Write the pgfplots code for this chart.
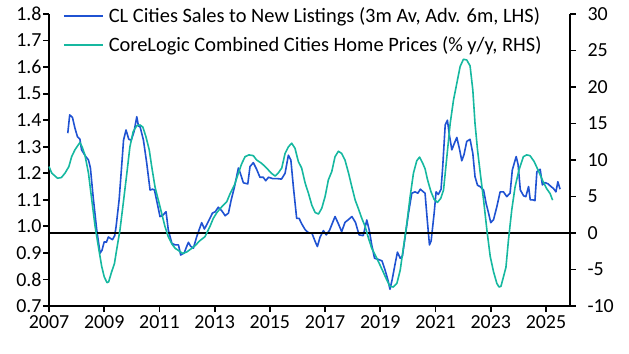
\documentclass[border=0pt]{standalone}
\usepackage{pgfplots}
\pgfplotsset{compat=1.18}
\usepackage{fontspec}
\setmainfont{Carlito}
\definecolor{clblue}{RGB}{31,82,210}
\definecolor{clteal}{RGB}{22,184,160}
\begin{document}
\begin{tikzpicture}
\pgfplotsset{
  every axis/.append style={
    scale only axis, width=521bp, height=292bp,
    xmin=2007, xmax=2025.87,
    axis line style={black, line width=2.4bp},
    tick style={black, line width=1.8bp},
    tick align=outside,
    major tick length=6bp,
    every tick label/.append style={font=\fontsize{20}{24}\selectfont},
    /pgf/number format/assume math mode=true,
    clip=false,
  },
}
\begin{axis}[
  axis y line*=left, axis x line*=bottom,
  ymin=0.7, ymax=1.8,
  ytick={0.7,0.8,...,1.81},
  yticklabel style={xshift=2bp, /pgf/number format/.cd, fixed, fixed zerofill, precision=1},
  xtick={2007,2009,...,2025},
  xticklabel style={/pgf/number format/.cd, 1000 sep={}},
  legend style={draw=none, fill=none, inner sep=0pt, outer sep=0pt,
    at={(0.0269,1.0226)}, anchor=north west, row sep=13bp,
    font=\fontsize{20.5}{24}\selectfont,
    nodes={inner sep=0pt, anchor=west},
    /tikz/every odd column/.append style={column sep=5bp}},
  legend image code/.code={\draw[#1, line width=1.8bp] (0bp,0bp) -- (39bp,0bp);},
]
\addplot[clblue, line width=1.6bp, line join=round] coordinates {
(2007.68,1.351) (2007.75,1.42) (2007.85,1.41) (2007.94,1.37) (2008.03,1.338)
(2008.12,1.328) (2008.18,1.288) (2008.33,1.263) (2008.43,1.25) (2008.5,1.22)
(2008.6,1.11) (2008.73,0.986) (2008.85,0.899) (2008.92,0.91) (2009.0,0.942)
(2009.08,0.94) (2009.15,0.96) (2009.22,0.955) (2009.3,0.95) (2009.38,0.965)
(2009.43,0.999) (2009.54,1.10) (2009.63,1.225) (2009.7,1.325) (2009.79,1.363)
(2009.89,1.328) (2009.98,1.325) (2010.08,1.357) (2010.18,1.413) (2010.24,1.378)
(2010.3,1.375) (2010.42,1.325) (2010.54,1.238) (2010.66,1.137) (2010.75,1.14)
(2010.82,1.137) (2010.92,1.087) (2011.02,1.037) (2011.1,1.04) (2011.24,1.055)
(2011.32,0.987) (2011.45,0.936) (2011.57,0.93) (2011.69,0.93) (2011.77,0.892)
(2011.9,0.90) (2011.97,0.92) (2012.05,0.94) (2012.13,0.925) (2012.23,0.918)
(2012.35,0.961) (2012.43,0.985) (2012.53,1.014) (2012.63,0.99) (2012.77,1.018)
(2012.92,1.05) (2013.02,1.055) (2013.13,1.072) (2013.25,1.06) (2013.38,1.04)
(2013.5,1.05) (2013.6,1.10) (2013.72,1.15) (2013.86,1.22) (2013.93,1.20)
(2014.04,1.164) (2014.2,1.16) (2014.28,1.225) (2014.4,1.24) (2014.52,1.215)
(2014.64,1.185) (2014.76,1.185) (2014.85,1.172) (2014.95,1.185) (2015.1,1.18)
(2015.25,1.18) (2015.42,1.178) (2015.55,1.20) (2015.67,1.268) (2015.76,1.25)
(2015.85,1.15) (2015.97,1.03) (2016.06,1.03) (2016.15,1.01) (2016.28,0.987)
(2016.4,0.976) (2016.52,0.975) (2016.64,0.943) (2016.72,0.924) (2016.82,0.96)
(2016.94,0.984) (2017.04,0.968) (2017.16,0.985) (2017.36,1.037) (2017.48,1.01)
(2017.6,0.98) (2017.72,1.015) (2017.84,1.025) (2017.97,1.037) (2018.1,1.015)
(2018.23,0.968) (2018.38,0.965) (2018.51,1.024) (2018.6,0.985) (2018.69,0.93)
(2018.79,0.88) (2018.94,0.875) (2019.06,0.87) (2019.17,0.836) (2019.27,0.80)
(2019.35,0.763) (2019.43,0.80) (2019.54,0.861) (2019.62,0.903) (2019.72,0.88)
(2019.8,0.888) (2019.9,0.961) (2020.02,1.05) (2020.14,1.125) (2020.26,1.13)
(2020.36,1.125) (2020.45,1.14) (2020.56,1.13) (2020.62,1.125) (2020.7,1.024)
(2020.78,0.93) (2020.84,0.945) (2020.95,1.05) (2021.02,1.13) (2021.1,1.12)
(2021.2,1.14) (2021.26,1.225) (2021.35,1.382) (2021.43,1.40) (2021.5,1.345)
(2021.59,1.288) (2021.67,1.31) (2021.77,1.335) (2021.87,1.29) (2021.95,1.247)
(2022.03,1.27) (2022.13,1.32) (2022.25,1.328) (2022.35,1.275) (2022.43,1.187)
(2022.52,1.155) (2022.61,1.15) (2022.74,1.137) (2022.83,1.087) (2022.92,1.05)
(2023.0,1.014) (2023.1,1.025) (2023.22,1.074) (2023.34,1.13) (2023.46,1.13)
(2023.58,1.112) (2023.7,1.125) (2023.78,1.212) (2023.92,1.263) (2023.99,1.233)
(2024.07,1.137) (2024.19,1.115) (2024.27,1.112) (2024.37,1.15) (2024.43,1.10)
(2024.52,1.10) (2024.6,1.097) (2024.67,1.206) (2024.79,1.215) (2024.87,1.156)
(2024.96,1.165) (2025.08,1.16) (2025.18,1.15) (2025.27,1.143) (2025.36,1.13)
(2025.43,1.168) (2025.51,1.14)
};
\addlegendentry{CL Cities Sales to New Listings (3m Av, Adv. 6m, LHS)}
\addlegendimage{clteal}
\addlegendentry{CoreLogic Combined Cities Home Prices (\% y/y, RHS)}
\end{axis}
\begin{axis}[
  axis y line*=right, axis x line=none,
  ymin=-10, ymax=30,
  ytick={-10,-5,...,30},
  yticklabel style={anchor=west, xshift=8bp},
]
\addplot[black, line width=2.4bp] coordinates {(2007,0) (2025.87,0)};
\addplot[clteal, line width=1.6bp, line join=round] coordinates {
(2007.0,9.1) (2007.1,8.2) (2007.31,7.5) (2007.45,7.6) (2007.58,8.2)
(2007.72,9.1) (2007.82,10.45) (2007.94,11.4) (2008.03,11.9) (2008.12,12.4)
(2008.2,11.8) (2008.3,10.7) (2008.43,8.2) (2008.55,4.5) (2008.67,0.9)
(2008.79,-1.9) (2008.91,-4.6) (2009.0,-6.0) (2009.1,-6.8) (2009.16,-6.7)
(2009.27,-5.3) (2009.37,-4.2) (2009.45,-2.3) (2009.57,0.4) (2009.69,4.1)
(2009.82,8.2) (2009.93,11.8) (2010.05,13.9) (2010.18,14.7) (2010.3,14.8)
(2010.4,14.5) (2010.51,13.2) (2010.63,11.4) (2010.72,9.1) (2010.84,6.3)
(2010.96,4.5) (2011.08,2.7) (2011.2,0.9) (2011.32,-0.5) (2011.45,-1.5)
(2011.57,-2.1) (2011.69,-2.4) (2011.84,-2.8) (2011.99,-2.6) (2012.17,-2.1)
(2012.3,-1.7) (2012.45,-1.1) (2012.65,-0.5) (2012.83,0.9) (2012.95,2.0)
(2013.08,2.8) (2013.26,3.6) (2013.44,4.3) (2013.56,5.4) (2013.72,6.6)
(2013.86,8.2) (2013.98,9.5) (2014.1,10.45) (2014.24,10.7) (2014.4,10.6)
(2014.52,10.0) (2014.7,9.55) (2014.88,8.9) (2015.05,8.2) (2015.19,7.8)
(2015.3,8.2) (2015.43,8.9) (2015.55,10.9) (2015.67,11.8) (2015.79,12.3)
(2015.91,11.6) (2016.03,9.8) (2016.15,8.9) (2016.28,6.8) (2016.4,5.4)
(2016.52,3.8) (2016.64,2.8) (2016.76,2.6) (2016.88,3.4) (2017.0,5.0)
(2017.12,7.3) (2017.24,8.4) (2017.36,10.45) (2017.48,11.2) (2017.6,10.9)
(2017.72,10.0) (2017.85,8.2) (2017.97,6.3) (2018.09,4.5) (2018.2,3.4)
(2018.33,2.0) (2018.45,0.9) (2018.57,-0.7) (2018.69,-2.1) (2018.84,-3.2)
(2018.99,-4.4) (2019.1,-5.3) (2019.23,-6.4) (2019.35,-7.3) (2019.47,-7.4)
(2019.6,-6.9) (2019.72,-5.1) (2019.84,-1.9) (2019.96,1.3) (2020.08,5.0)
(2020.2,8.2) (2020.32,9.9) (2020.42,10.4) (2020.53,9.6) (2020.62,8.8)
(2020.71,7.3) (2020.83,5.7) (2020.95,4.6) (2021.07,4.2) (2021.19,4.75)
(2021.29,5.9) (2021.41,10.45) (2021.53,15.0) (2021.65,18.2) (2021.77,20.5)
(2021.89,22.8) (2022.01,23.8) (2022.13,23.7) (2022.25,22.9) (2022.35,19.6)
(2022.43,15.0) (2022.52,11.4) (2022.62,8.2) (2022.74,4.5) (2022.86,0.4)
(2022.98,-3.2) (2023.1,-5.3) (2023.22,-6.9) (2023.3,-7.4) (2023.37,-7.3)
(2023.46,-6.0) (2023.55,-4.7) (2023.64,-1.0) (2023.76,3.15) (2023.88,6.3)
(2024.02,8.6) (2024.18,10.45) (2024.3,10.7) (2024.42,10.6) (2024.57,9.8)
(2024.74,8.4) (2024.9,7.0) (2025.02,6.1) (2025.15,5.4) (2025.24,4.5)
};
\end{axis}
\pgfresetboundingbox
\path[use as bounding box] (-49bp,-48bp) rectangle (580bp,306bp);
\end{tikzpicture}
\end{document}
